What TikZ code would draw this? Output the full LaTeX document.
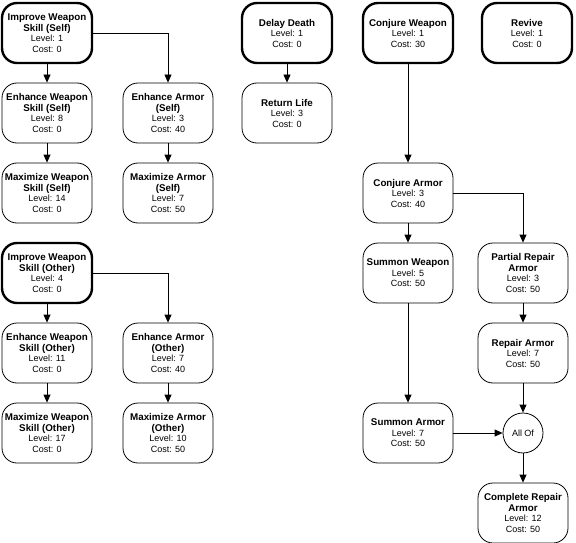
\documentclass[tikz,border=0pt]{standalone}
\usepackage{fontspec}
\setmainfont{Liberation Sans}
\usetikzlibrary{arrows.meta}
\newcommand{\ttl}[1]{{\fontsize{9.8}{10.5}\selectfont\textbf{#1}}}
\tikzset{
  skill/.style={draw=black, line width=0.8pt, rectangle, rounded corners=15pt,
    minimum width=90pt, minimum height=60pt, inner sep=0pt, align=center,
    font=\fontsize{9}{10.5}\selectfont},
  rootskill/.style={skill, line width=2.4pt},
  gate/.style={draw=black, line width=0.8pt, circle, minimum size=40pt, inner sep=0pt,
    font=\fontsize{9}{10.5}\selectfont},
  link/.style={draw=black, line width=0.8pt, -{Triangle[length=8pt,width=7pt]}},
}
\begin{document}
\begin{tikzpicture}[x=1pt,y=-1pt]
\useasboundingbox (0,0) rectangle (576,543);
% Self group
\node[rootskill] (isw) at (47,33) {\ttl{Improve Weapon}\\\ttl{Skill (Self)}\\Level: 1\\Cost: 0};
\node[skill] (ews) at (47,113) {\ttl{Enhance Weapon}\\\ttl{Skill (Self)}\\Level: 8\\Cost: 0};
\node[skill] (mws) at (47,193) {\ttl{Maximize Weapon}\\\ttl{Skill (Self)}\\Level: 14\\Cost: 0};
\node[skill] (eas) at (168,113) {\ttl{Enhance Armor}\\\ttl{(Self)}\\Level: 3\\Cost: 40};
\node[skill] (mas) at (168,193) {\ttl{Maximize Armor}\\\ttl{(Self)}\\Level: 7\\Cost: 50};
% Other group
\node[rootskill] (iwo) at (47,273) {\ttl{Improve Weapon}\\\ttl{Skill (Other)}\\Level: 4\\Cost: 0};
\node[skill] (ewo) at (47,353) {\ttl{Enhance Weapon}\\\ttl{Skill (Other)}\\Level: 11\\Cost: 0};
\node[skill] (mwo) at (47,433) {\ttl{Maximize Weapon}\\\ttl{Skill (Other)}\\Level: 17\\Cost: 0};
\node[skill] (eao) at (168,353) {\ttl{Enhance Armor}\\\ttl{(Other)}\\Level: 7\\Cost: 40};
\node[skill] (mao) at (168,433) {\ttl{Maximize Armor}\\\ttl{(Other)}\\Level: 10\\Cost: 50};
% Delay death
\node[rootskill] (dd) at (287,33) {\ttl{Delay Death}\\Level: 1\\Cost: 0};
\node[skill] (rl) at (287,113) {\ttl{Return Life}\\Level: 3\\Cost: 0};
% Conjure
\node[rootskill] (cw) at (408,33) {\ttl{Conjure Weapon}\\Level: 1\\Cost: 30};
\node[rootskill] (rv) at (527,33) {\ttl{Revive}\\Level: 1\\Cost: 0};
\node[skill] (ca) at (408,193) {\ttl{Conjure Armor}\\Level: 3\\Cost: 40};
\node[skill] (sw) at (408,273) {\ttl{Summon Weapon}\\Level: 5\\Cost: 50};
\node[skill] (pra) at (523,273) {\ttl{Partial Repair}\\\ttl{Armor}\\Level: 3\\Cost: 50};
\node[skill] (ra) at (523,353) {\ttl{Repair Armor}\\Level: 7\\Cost: 50};
\node[skill] (sa) at (408,433) {\ttl{Summon Armor}\\Level: 7\\Cost: 50};
\node[gate] (all) at (523,433) {All Of};
\node[skill] (cra) at (523,513) {\ttl{Complete Repair}\\\ttl{Armor}\\Level: 12\\Cost: 50};
% connectors
\draw[link] (isw) -- (ews);
\draw[link] (ews) -- (mws);
\draw[link] (isw.east) -| (eas.north);
\draw[link] (eas) -- (mas);
\draw[link] (iwo) -- (ewo);
\draw[link] (ewo) -- (mwo);
\draw[link] (iwo.east) -| (eao.north);
\draw[link] (eao) -- (mao);
\draw[link] (dd) -- (rl);
\draw[link] (cw) -- (ca);
\draw[link] (ca) -- (sw);
\draw[link] (ca.east) -| (pra.north);
\draw[link] (sw) -- (sa);
\draw[link] (pra) -- (ra);
\draw[link] (ra) -- (all);
\draw[link] (sa) -- (all);
\draw[link] (all) -- (cra);
\end{tikzpicture}
\end{document}
